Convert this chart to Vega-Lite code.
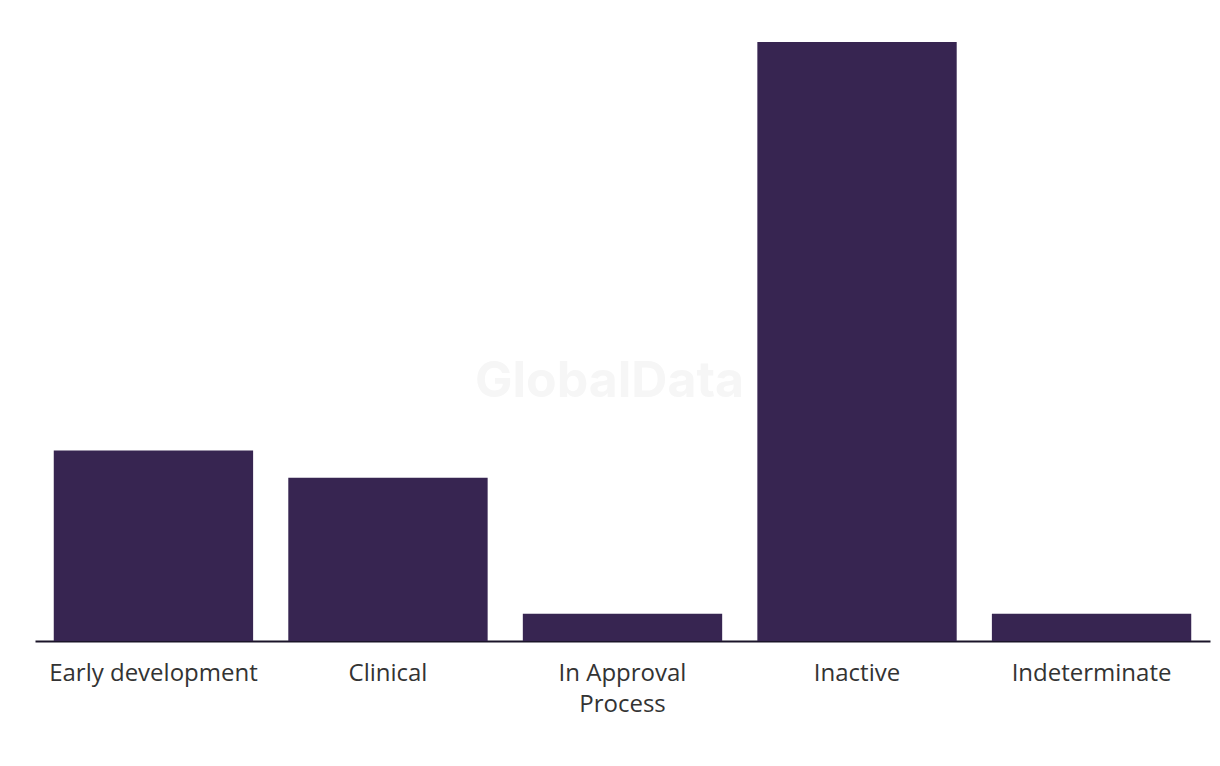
{
  "$schema": "https://vega.github.io/schema/vega-lite/v6.json",
  "width": 1175,
  "height": 599,
  "autosize": {"type": "none"},
  "padding": {"left": 35, "top": 42, "right": 10, "bottom": 125},
  "background": "white",
  "config": {"view": {"stroke": null}, "font": "Open Sans"},
  "layer": [
    {
      "data": {
        "values": [
          {"stage": "Early development", "count": 7},
          {"stage": "Clinical", "count": 6},
          {"stage": "In Approval Process", "count": 1},
          {"stage": "Inactive", "count": 22},
          {"stage": "Indeterminate", "count": 1}
        ]
      },
      "mark": {"type": "bar", "color": "#372551"},
      "encoding": {
        "x": {
          "field": "stage",
          "type": "nominal",
          "sort": ["Early development", "Clinical", "In Approval Process", "Inactive", "Indeterminate"],
          "scale": {"paddingInner": 0.15, "paddingOuter": 0.08},
          "axis": {
            "title": null,
            "labelAngle": 0,
            "labelFontSize": 24,
            "labelColor": "#333333",
            "labelFont": "Open Sans",
            "labelPadding": 20,
            "labelLineHeight": 31,
            "labelLimit": 0,
            "ticks": false,
            "domainColor": "#1a1429",
            "domainWidth": 2,
            "labelExpr": "datum.label == 'In Approval Process' ? ['In Approval', 'Process'] : datum.label"
          }
        },
        "y": {
          "field": "count",
          "type": "quantitative",
          "scale": {"domain": [0, 22], "nice": false},
          "axis": null
        }
      }
    },
    {
      "data": {"values": [{"stage": "In Approval Process", "wm": "GlobalData", "pos": 9.5}]},
      "mark": {"type": "text", "fontSize": 50, "fontWeight": "bold", "color": "#f6f6f6", "font": "Inter", "dx": -13},
      "encoding": {
        "x": {"field": "stage", "type": "nominal", "sort": ["Early development", "Clinical", "In Approval Process", "Inactive", "Indeterminate"]},
        "y": {"field": "pos", "type": "quantitative"},
        "text": {"field": "wm"}
      }
    }
  ]
}
